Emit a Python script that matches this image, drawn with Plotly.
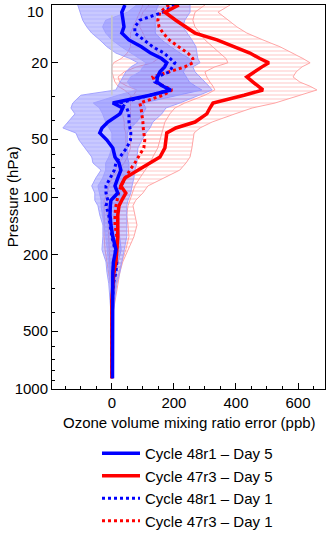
import plotly.graph_objects as go

# Pressure levels (hPa)
P = [10, 10.9, 12, 13, 14, 15.2, 16.5, 17.8, 19, 20, 21, 22.3, 23.7, 25.2, 26.5,
     27.7, 29.5, 32.4, 34.4, 36.9, 40.7, 43.7, 46.4, 50.5, 55.5, 61.9, 66.5, 72.4,
     79.7, 87.6, 95.3, 104, 111, 124, 140, 161, 188, 218, 246, 283, 345, 400, 500,
     600, 700, 800, 880]

# Mean errors (ppb)
red_day5 = [216, 171, 206, 239, 268, 339, 397, 445, 477, 506, 484, 458, 435, 455, 474,
            487, 426, 326, 316, 306, 268, 206, 177, 174, 171, 155, 123, 84, 42, 29,
            45, 32, 23, 19, 19, 19, 16, 13, 6, 3, 0, 0, 0, 0, 0, 0, 0]
blue_day5 = [42, 32, 36, 39, 32, 55, 95, 125, 160, 177, 170, 155, 147, 145, 165,
             190, 123, 3, 35, 26, -13, -32, -39, -16, 3, 10, 23, 29, 19, 10,
             19, -3, -5, -6, -3, 3, 13, 5, 3, 3, 2, 2, 2, 2, 2, 2, 2]
blue_day1 = [203, 165, 90, 74, 74, 103, 132, 168, 187, 203, 195, 185, 145, 139, 165,
             187, 123, 26, 48, 55, 55, 58, 61, 60, 48, 26, 13, 8, -6, -19,
             -19, -13, -19, -10, -6, 0, 10, 16, 13, 5, 2, 1, 1, 1, 1, 1, 1]
red_day1 = [184, 155, 148, 152, 165, 185, 215, 245, 261, 261, 235, 185, 132, 139, 168,
            194, 165, 90, 94, 97, 100, 101, 104, 106, 103, 87, 74, 58, 42, 29,
            22, 16, 13, 10, 10, 16, 16, 12, 8, 3, 1, 0, 0, 0, 0, 0, 0]

# Spread envelopes (ppb)
blue5_lo = [-110, -103, -94, -81, -65, -39, -16, 13, 58, 84, 61, 45, 35, 26, 19,
            13, -100, -126, -132, -119, -142, -158, -116, -106, -87, -65, -61, -35, -52, -65,
            -55, -55, -45, -39, -29, -29, -32, -19, -16, -10, -6, -3, -2, -1, -1, -1, -1]
blue5_hi = [150, 140, 140, 140, 140, 160, 190, 220, 250, 260, 240, 230, 240, 250, 270,
            290, 220, 100, 110, 100, 80, 60, 50, 50, 50, 50, 55, 55, 45, 35,
            40, 25, 20, 20, 20, 25, 30, 20, 15, 10, 6, 4, 3, 2, 2, 2, 2]
blue1_lo = [80, 50, -20, -30, -20, 0, 30, 60, 90, 110, 100, 90, 60, 50, 60,
            80, 20, -60, -40, -30, -20, -10, 0, 0, 0, -10, -20, -20, -30, -45,
            -40, -35, -35, -30, -25, -20, -15, -10, -8, -5, -3, -2, -1, 0, 0, 0, 0]
blue1_hi = [252, 252, 235, 229, 242, 258, 271, 274, 277, 284, 261, 268, 284, 300, 313,
            323, 284, 219, 174, 161, 132, 123, 110, 97, 84, 81, 81, 74, 71, 65,
            61, 52, 48, 48, 48, 48, 39, 32, 26, 16, 10, 4, 2, 1, 1, 1, 1]
red5_lo = [100, 90, 80, 70, 60, 60, 60, 50, 30, 5, 0, 0, 5, 10, 20,
           40, 60, 60, 60, 60, 60, 60, 60, 60, 60, 50, 40, 20, 0, -10,
           -15, -25, -25, -25, -25, -25, -22, -15, -10, -5, -2, -1, 0, 0, 0, 0, 0]
red5_hi = [381, 342, 374, 403, 435, 487, 542, 581, 616, 639, 613, 594, 584, 606, 639,
           661, 606, 526, 452, 397, 323, 284, 265, 261, 258, 252, 239, 219, 165, 116,
           100, 77, 68, 74, 81, 71, 52, 35, 26, 19, 10, 4, 2, 1, 1, 1, 1]
red1_lo = [120, 100, 90, 90, 100, 110, 130, 150, 150, 130, 80, 40, 20, 25, 50,
           80, 70, 30, 30, 35, 40, 40, 45, 45, 45, 35, 25, 10, 0, -10,
           -15, -15, -15, -15, -12, -10, -10, -8, -5, -3, -1, 0, 0, 0, 0, 0, 0]
red1_hi = [300, 268, 261, 268, 284, 300, 326, 348, 368, 374, 332, 300, 306, 316, 326,
           332, 300, 235, 203, 187, 171, 165, 161, 155, 148, 132, 123, 106, 90, 74,
           65, 58, 52, 48, 52, 55, 45, 32, 23, 13, 6, 3, 1, 0, 0, 0, 0]

x_ticks = [0, 200, 400, 600]
y_ticks = [10, 20, 50, 100, 200, 500, 1000]
y_minor = [30, 40, 60, 70, 80, 90, 300, 400, 600, 700, 800, 900]

FONT = "Liberation Sans, Arial, Helvetica, sans-serif"

fig = go.Figure()


def band(lo, hi, edge, fg, bg):
    fig.add_trace(go.Scatter(
        x=lo + hi[::-1], y=P + P[::-1], mode="lines", fill="toself",
        line=dict(color=edge, width=1),
        fillpattern=dict(shape="-", fgcolor=fg, bgcolor=bg, size=4, solidity=0.4),
        hoverinfo="skip", showlegend=False))


band(red5_lo, red5_hi, "rgba(255,160,160,0.95)", "rgba(255,140,140,0.6)", "rgba(255,255,255,0)")
band(red1_lo, red1_hi, "rgba(255,160,160,0.95)", "rgba(255,140,140,0.5)", "rgba(255,255,255,0)")
band(blue5_lo, blue5_hi, "rgba(160,160,255,0.95)", "rgba(160,160,255,0.6)", "rgba(120,120,255,0.4)")
band(blue1_lo, blue1_hi, "rgba(160,160,255,0.95)", "rgba(160,160,255,0.6)", "rgba(120,120,255,0.35)")

# zero reference line
fig.add_trace(go.Scatter(x=[0, 0], y=[11.3, 29.5], mode="lines",
                         line=dict(color="rgb(200,200,200)", width=1.5),
                         hoverinfo="skip", showlegend=False))

fig.add_trace(go.Scatter(x=red_day1, y=P, mode="lines", name="Cycle 47r3 – Day 1",
                         line=dict(color="#ff0000", width=3, dash="dot"), legendrank=4))
fig.add_trace(go.Scatter(x=blue_day1, y=P, mode="lines", name="Cycle 48r1 – Day 1",
                         line=dict(color="#0000ff", width=3, dash="dot"), legendrank=3))
fig.add_trace(go.Scatter(x=red_day5, y=P, mode="lines", name="Cycle 47r3 – Day 5",
                         line=dict(color="#ff0000", width=3.5), legendrank=2))
fig.add_trace(go.Scatter(x=blue_day5, y=P, mode="lines", name="Cycle 48r1 – Day 5",
                         line=dict(color="#0000ff", width=3.5), legendrank=1))

# top tick label drawn just inside the canvas, as in the reference
y_ticktext = ["" if v == y_ticks[0] else str(v) for v in y_ticks]

fig.update_layout(
    width=330, height=534,
    margin=dict(l=52, r=5, t=5, b=145, autoexpand=False),
    paper_bgcolor="white", plot_bgcolor="white",
    font=dict(family=FONT, size=15, color="black"),
    legend=dict(xref="container", yref="container", x=97 / 330, y=1 - 437 / 534,
                xanchor="left", yanchor="top",
                bgcolor="rgba(0,0,0,0)", font=dict(size=15), itemwidth=38,
                tracegroupgap=0),
    annotations=[
        dict(text="Ozone volume mixing ratio error (ppb)", xref="paper", yref="paper",
             x=0.505, y=-0.0885, xanchor="center", yanchor="middle", showarrow=False,
             font=dict(size=15)),
        dict(text="Pressure (hPa)", xref="paper", yref="paper", textangle=-90,
             x=-0.146, y=0.5, xanchor="center", yanchor="middle", showarrow=False,
             font=dict(size=15)),
        dict(text=str(y_ticks[0]), xref="paper", yref="paper", x=-0.022,
             y=(389 - 11) / 384, xanchor="right", yanchor="middle", showarrow=False,
             font=dict(size=15)),
    ],
)

fig.update_xaxes(range=[-193, 687], tickvals=x_ticks, ticks="inside", ticklen=6,
                 tickcolor="black", linecolor="black", linewidth=1, mirror=True,
                 showgrid=False, zeroline=False, automargin=False,
                 minor=dict(dtick=50, ticks="inside", ticklen=3, tickcolor="black", showgrid=False))
fig.update_yaxes(type="log", range=[3, 1], autorange=False, tickvals=y_ticks,
                 ticktext=y_ticktext, ticks="inside", ticklen=6,
                 tickcolor="black", linecolor="black", linewidth=1, mirror=True,
                 showgrid=False, zeroline=False, automargin=False,
                 minor=dict(tickvals=y_minor, ticks="inside", ticklen=3, tickcolor="black",
                            showgrid=False))

fig.write_html("out.html")
